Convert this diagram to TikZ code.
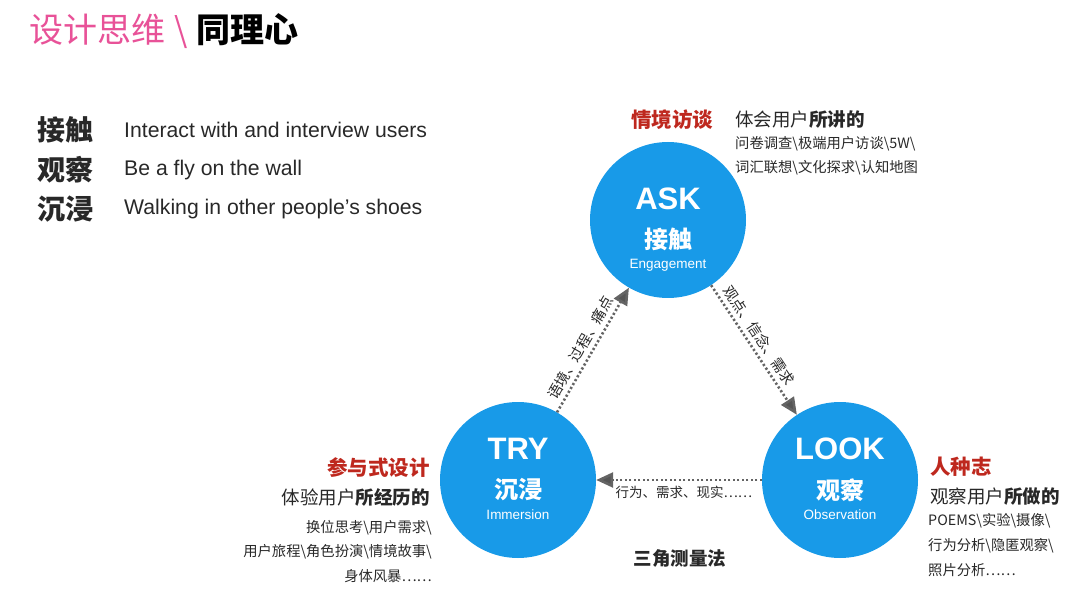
\documentclass[tikz,border=0pt]{standalone}
\usepackage{fontspec}
\setmainfont{Liberation Sans}
\newfontfamily\cjk{Noto Sans CJK SC}
\usetikzlibrary{arrows.meta}

\definecolor{skyblue}{RGB}{24,154,232}
\definecolor{titlepink}{RGB}{232,82,152}
\definecolor{darkred}{RGB}{190,40,30}
\definecolor{dotgray}{RGB}{100,100,100}
\definecolor{inkgray}{RGB}{40,40,40}

\tikzset{
	txt/.style={inner sep=0pt, text=inkgray},
	bubble/.style={circle, fill=skyblue, minimum size=156pt, inner sep=0pt},
	bigword/.style={inner sep=0pt, text=white, font=\fontsize{31}{31}\selectfont\bfseries},
	cnword/.style={inner sep=0pt, text=white, font=\cjk\fontsize{24}{24}\selectfont\bfseries},
	enword/.style={inner sep=0pt, text=white, font=\fontsize{13.5}{14}\selectfont},
	method/.style={txt, text=darkred, font=\cjk\fontsize{20.5}{21}\selectfont\bfseries},
	aim/.style={txt, font=\cjk\fontsize{18.5}{19}\selectfont},
	tool/.style={txt, font=\cjk\fontsize{14.3}{15}\selectfont},
	flow/.style={draw=dotgray, line width=2.6pt,
		dash pattern=on 2.2pt off 2.3pt,
		-{Triangle[length=17pt,width=15pt,fill=dotgray!85!black]}},
	flowtext/.style={font=\cjk\fontsize{14.5}{15}\selectfont, text=inkgray, inner sep=4pt}
}

\begin{document}
\begin{tikzpicture}[x=1pt,y=-1pt]
	\useasboundingbox (0,0) rectangle (1080,604);

	% title
	\node[txt, anchor=west, font=\cjk\fontsize{34}{34}\selectfont] (title) at (29,31)
		{\textcolor{titlepink}{设计思维\hspace{9pt}\textbackslash}\hspace{9pt}{\bfseries\color{black}同理心}};

	% the three modes
	\begin{scope}[every node/.style={txt, anchor=west}]
		\node[font=\cjk\fontsize{28}{28}\selectfont\bfseries] (m1) at (37,130) {接触};
		\node[font=\cjk\fontsize{28}{28}\selectfont\bfseries] (m2) at (37,170) {观察};
		\node[font=\cjk\fontsize{28}{28}\selectfont\bfseries] (m3) at (37,209) {沉浸};
		\node[font=\fontsize{21.2}{22}\selectfont] (e1) at (124,130) {Interact with and interview users};
		\node[font=\fontsize{21.2}{22}\selectfont] (e2) at (124,170) {Be a fly on the wall};
		\node[font=\fontsize{21.2}{22}\selectfont] (e3) at (124,209) {Walking in other people’s shoes};
	\end{scope}

	% circles
	\node[bubble] (ask) at (668,220) {};
	\node[bubble] (try) at (518,480) {};
	\node[bubble] (look) at (840,480) {};

	\node[bigword] (askw) at (668,199) {ASK};
	\node[cnword] (askc) at (668,239) {接触};
	\node[enword] (aske) at (668,265) {Engagement};

	\node[bigword] (tryw) at (518,449) {TRY};
	\node[cnword] (tryc) at (518,490) {沉浸};
	\node[enword] (trye) at (518,515) {Immersion};

	\node[bigword] (lookw) at (840,449) {LOOK};
	\node[cnword] (lookc) at (840,490) {观察};
	\node[enword] (looke) at (840,515) {Observation};

	% arrows between the modes
	\draw[flow] (try) -- (ask) node[flowtext, pos=0.47, sloped, above] (l1) {语境、过程、痛点};
	\draw[flow] (ask) -- (look) node[flowtext, pos=0.44, sloped, above] (l2) {观点、信念、需求};
	\draw[flow] (look) -- (try) node[flowtext, font=\cjk\fontsize{13.5}{14}\selectfont,
		pos=0.47, below, yshift=-1pt] (l3) {行为、需求、现实……};

	\node[txt, font=\cjk\fontsize{18.5}{19}\selectfont\bfseries] (tri) at (680,558) {三角测量法};

	% ASK notes
	\node[method, anchor=west] (askm) at (631,120) {情境访谈};
	\node[aim, anchor=west] (aska) at (735,120) {体会用户{\bfseries 所讲的}};
	\node[tool, anchor=west] (askt1) at (735,144) {问卷调查\textbackslash 极端用户访谈\textbackslash 5W\textbackslash};
	\node[tool, anchor=west] (askt2) at (735,168) {词汇联想\textbackslash 文化探求\textbackslash 认知地图};

	% TRY notes
	\node[method, anchor=east] (trym) at (430,468) {参与式设计};
	\node[aim, anchor=east] (trya) at (430,497) {体验用户{\bfseries 所经历的}};
	\node[tool, anchor=east] (tryt1) at (432,528) {换位思考\textbackslash 用户需求\textbackslash};
	\node[tool, anchor=east] (tryt2) at (432,552) {用户旅程\textbackslash 角色扮演\textbackslash 情境故事\textbackslash};
	\node[tool, anchor=east] (tryt3) at (432,576) {身体风暴……};

	% LOOK notes
	\node[method, anchor=west] (lookm) at (930,467) {人种志};
	\node[aim, anchor=west] (looka) at (930,497) {观察用户{\bfseries 所做的}};
	\node[tool, anchor=west] (lookt1) at (928,521) {POEMS\textbackslash 实验\textbackslash 摄像\textbackslash};
	\node[tool, anchor=west] (lookt2) at (928,546) {行为分析\textbackslash 隐匿观察\textbackslash};
	\node[tool, anchor=west] (lookt3) at (928,570) {照片分析……};
\end{tikzpicture}
\end{document}
